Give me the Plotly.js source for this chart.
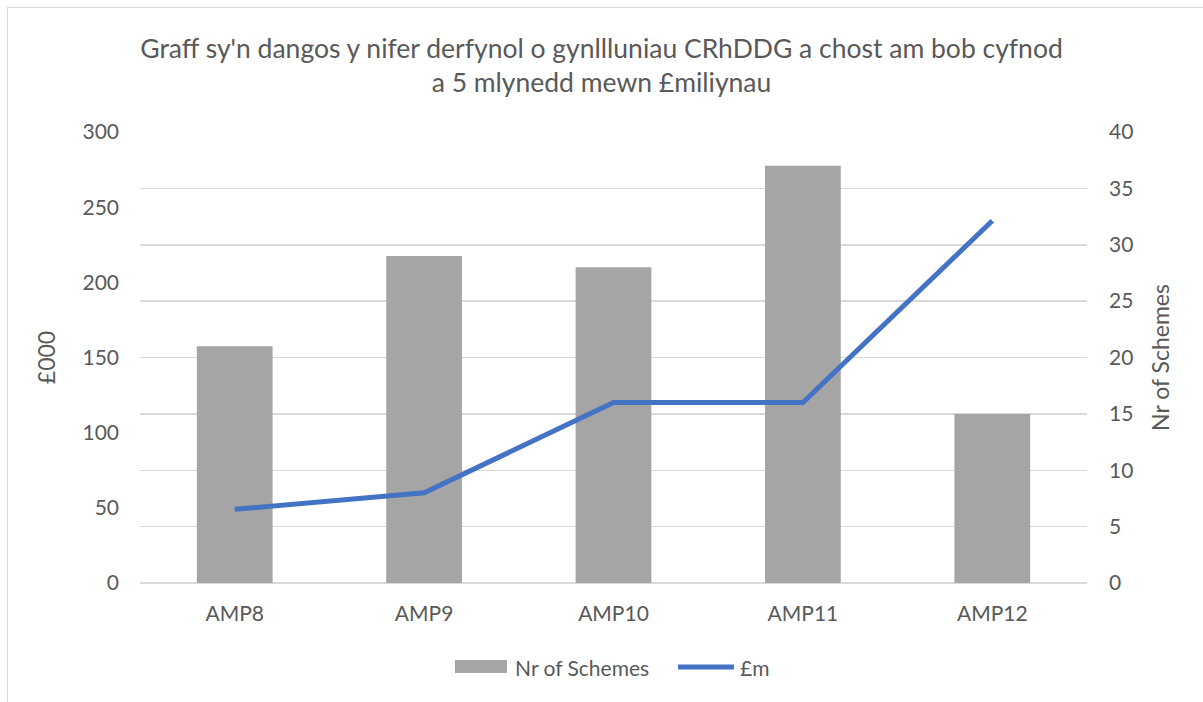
<!DOCTYPE html>
<html><head><meta charset="utf-8">
<script src="https://cdn.plot.ly/plotly-3.0.1.min.js"></script>
<style>
html,body{margin:0;padding:0;background:#fff;}
#frame{position:absolute;left:7px;top:7px;width:1300px;height:800px;border:1px solid #D9D9D9;}
#chart{position:absolute;left:0;top:0;width:1203px;height:702px;}
</style></head>
<body>
<div id="frame"></div>
<div id="chart"></div>
<script>
const categories = ["AMP8", "AMP9", "AMP10", "AMP11", "AMP12"];
const schemes = [21, 29, 28, 37, 15];
const costs = [49, 60, 120, 120, 241];
const seriesNames = ["Nr of Schemes", "£m"];
const titleText = "Graff sy'n dangos y nifer derfynol o gynllluniau CRhDDG a chost am bob cyfnod<br>a 5 mlynedd mewn £miliynau";
const FONT = "Lato, sans-serif";
const TXT = "#595959";
const BAR_COLOR = "#A5A5A5";
const LINE_COLOR = "#4472C4";

const traces = [
  {type: "bar", x: categories, y: schemes, yaxis: "y", name: seriesNames[0],
   marker: {color: BAR_COLOR}, showlegend: false},
  {type: "scatter", mode: "lines", x: categories, y: costs, yaxis: "y2", name: seriesNames[1],
   line: {color: LINE_COLOR, width: 5}, showlegend: false}
];

// custom legend (Excel-style wide swatches)
const legendY = -0.1863;
const shapes = [
  {type: "rect", xref: "paper", yref: "paper", x0: 0.3326, x1: 0.3875, y0: -0.1996, y1: -0.1707,
   fillcolor: BAR_COLOR, line: {width: 0}},
  {type: "line", xref: "paper", yref: "paper", x0: 0.5681, x1: 0.6272, y0: legendY, y1: legendY,
   line: {color: LINE_COLOR, width: 5}}
];
const annotations = [
  {xref: "paper", yref: "paper", x: 0.3939, y: legendY, xanchor: "left", yanchor: "middle",
   text: seriesNames[0], showarrow: false, font: {family: FONT, size: 21, color: TXT}},
  {xref: "paper", yref: "paper", x: 0.6315, y: legendY, xanchor: "left", yanchor: "middle",
   text: seriesNames[1], showarrow: false, font: {family: FONT, size: 21, color: TXT}}
];

const layout = {
  width: 1203, height: 702,
  paper_bgcolor: "rgba(0,0,0,0)", plot_bgcolor: "rgba(0,0,0,0)",
  margin: {l: 140, r: 116, t: 132, b: 119, autoexpand: false},
  font: {family: FONT, color: TXT, size: 20},
  title: {text: titleText, x: 0.5, xanchor: "center", y: 0.918, yanchor: "middle",
          font: {family: FONT, size: 26.5, color: TXT}},
  bargap: 0.6,
  showlegend: false,
  shapes: shapes,
  annotations: annotations,
  xaxis: {type: "category", showgrid: false, showline: false, ticks: "", automargin: false,
          tickfont: {family: FONT, size: 21, color: TXT}, ticklabelstandoff: 16},
  yaxis: {range: [0, 40], dtick: 5, side: "right", showgrid: true, gridcolor: "#D9D9D9", gridwidth: 1.5,
          zeroline: true, zerolinecolor: "#D9D9D9", zerolinewidth: 1.5, showline: false, automargin: false,
          tickfont: {family: FONT, size: 21, color: TXT}, ticklabelstandoff: 21,
          title: {text: "Nr of Schemes", font: {family: FONT, size: 23, color: TXT}, standoff: 20}},
  yaxis2: {range: [0, 300], dtick: 50, overlaying: "y", side: "left", showgrid: false,
           zeroline: false, showline: false, automargin: false,
           tickfont: {family: FONT, size: 21, color: TXT}, ticklabelstandoff: 20,
           title: {text: "£000", font: {family: FONT, size: 23, color: TXT}, standoff: 20}}
};

Plotly.newPlot("chart", traces, layout, {displayModeBar: false, staticPlot: true});
</script>
</body></html>
